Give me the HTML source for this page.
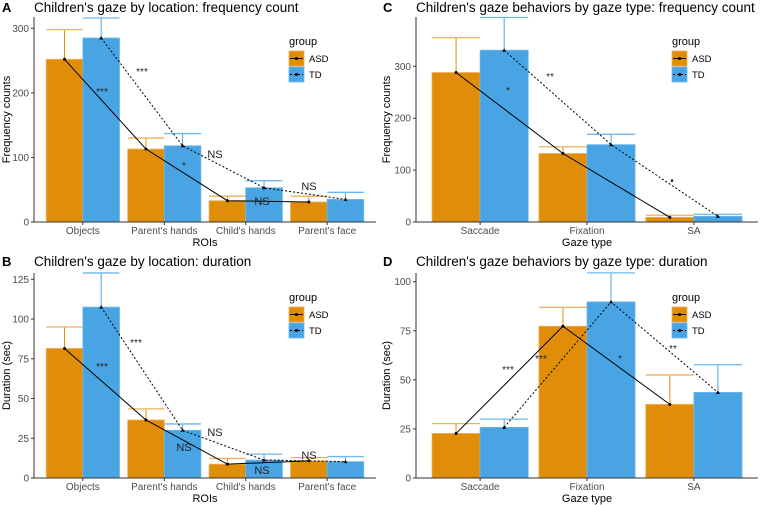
<!DOCTYPE html>
<html><head><meta charset="utf-8"><style>
html,body{margin:0;padding:0;background:#fff;}
svg{display:block;font-family:"Liberation Sans",Arial,sans-serif;}
</style></head><body>
<svg id="fig" width="760" height="505" viewBox="0 0 760 505"></svg>
<script>
// Panel A data
const catsA = ["Objects","Parent's hands","Child's hands","Parent's face"];
const asdA = [252,113,33,31];
const tdA = [285,118,53,35];
const asdErrA = [298,130,40,40];
const tdErrA = [316,137,64,46];
const ticksA = [0,100,200,300];
// Panel B data
const asdB = [81.5,36.5,8.7,10.8];
const tdB = [107.5,30,11.3,10.3];
const asdErrB = [95,43.5,12.3,12.8];
const tdErrB = [129,34,15,13.5];
const ticksB = [0,25,50,75,100,125];
// Panel C data
const catsC = ["Saccade","Fixation","SA"];
const asdC = [288,132,9];
const tdC = [331,149,11];
const asdErrC = [355,145,13];
const tdErrC = [394,169,15];
const ticksC = [0,100,200,300];
// Panel D data
const asdD = [22.7,77.3,37.5];
const tdD = [25.8,89.7,43.6];
const asdErrD = [27.7,87,52.5];
const tdErrD = [30,104.5,57.7];
const ticksD = [0,25,50,75,100];

const NS="http://www.w3.org/2000/svg";
const svg=document.getElementById('fig');
const ASD="#E08D0A", TD="#48A4E2", ASDL="#EDB15A", TDL="#6DB8EC";
function mk(tag,attrs,parent,text){const e=document.createElementNS(NS,tag);for(const k in attrs)e.setAttribute(k,attrs[k]);if(text!==undefined)e.textContent=text;(parent||svg).appendChild(e);return e;}

function panel(o){
  const g=mk('g',{});
  
  
  const n=o.cats.length, step=(o.right-o.left)/(n+0.2);
  const xc=i=>o.left+step*(0.6+i);
  const bw=step*0.45;
  const y=v=>o.bottom-(v-0)*(o.bottom-o.y1)/o.v1;
  // letter & title
  const l=mk('text',{x:o.lx,y:o.ty,'font-size':13,'font-weight':'bold',fill:'#000'},g,o.letter);
  
  const t=mk('text',{x:o.left,y:o.ty,'font-size':13.5,fill:'#000'},g,o.title);
  
  // bars
  for(let i=0;i<n;i++){
    [[o.asd[i],o.asdE[i],-1,ASD,ASDL,'asd'],[o.td[i],o.tdE[i],0,TD,TDL,'td']].forEach(([v,e,off,c,cl,nm])=>{
      const x0=xc(i)+off*bw;
      const r=mk('rect',{x:x0,y:y(v),width:bw,height:o.bottom-y(v),fill:c,stroke:cl,'stroke-width':0.8},g);
      
      const ln=mk('line',{x1:x0+bw/2,x2:x0+bw/2,y1:y(v),y2:y(e),stroke:c,'stroke-width':1},g);
      
      const cp=mk('line',{x1:x0,x2:x0+bw,y1:y(e),y2:y(e),stroke:cl,'stroke-width':1.3},g);
      
    });
  }
  // lines
  const pa=o.asd.map((v,i)=>(xc(i)-bw/2)+','+y(v)).join(' ');
  const pt=o.td.map((v,i)=>(xc(i)+bw/2)+','+y(v)).join(' ');
  const la=mk('polyline',{points:pa,fill:'none',stroke:'#000','stroke-width':1},g);
  
  const lt=mk('polyline',{points:pt,fill:'none',stroke:'#000','stroke-width':1,'stroke-dasharray':'2,2'},g);
  
  o.asd.forEach((v,i)=>{const p=mk('circle',{cx:xc(i)-bw/2,cy:y(v),r:1.5,fill:'#000'},g);});
  o.td.forEach((v,i)=>{const cx=xc(i)+bw/2,cy=y(v);const p=mk('polygon',{points:`${cx},${cy-2} ${cx-2},${cy+1.5} ${cx+2},${cy+1.5}`,fill:'#000'},g);});
  // annotations
  o.ann.forEach(a=>{const e=mk('text',{x:a[0],y:a[1],'font-size':a[3]||10,fill:'#222','text-anchor':'middle'},g,a[2]);});
  // axes
  const ya=mk('line',{x1:o.left,x2:o.left,y1:o.top,y2:o.bottom,stroke:'#333','stroke-width':1},g);
  
  const xa=mk('line',{x1:o.left,x2:o.right,y1:o.bottom,y2:o.bottom,stroke:'#333','stroke-width':1},g);
  
  o.ticks.forEach(v=>{
    const tk=mk('line',{x1:o.left-3,x2:o.left,y1:y(v),y2:y(v),stroke:'#333'},g);
    
    const tl=mk('text',{x:o.left-5,y:y(v)+3.5,'font-size':10,fill:'#4d4d4d','text-anchor':'end'},g,String(v));
    
  });
  o.cats.forEach((c,i)=>{
    const tk=mk('line',{x1:xc(i),x2:xc(i),y1:o.bottom,y2:o.bottom+3,stroke:'#333'},g);
    
    const tl=mk('text',{x:xc(i),y:o.bottom+12,'font-size':10,fill:'#4d4d4d','text-anchor':'middle'},g,c);
    
  });
  const xt=mk('text',{x:(o.left+o.right)/2,y:o.bottom+24,'font-size':11,fill:'#000','text-anchor':'middle'},g,o.xtitle);
  
  const yy=(o.top+o.bottom)/2;
  const yt=mk('text',{x:o.ytx,y:yy,'font-size':11,fill:'#000','text-anchor':'middle',transform:`rotate(-90 ${o.ytx} ${yy})`},g,o.ytitle);
  
  // legend
  const lg=mk('g',{},g);
  
  const lt0=mk('text',{x:o.lgx,y:o.lgy,'font-size':11,fill:'#000'},lg,'group');
  
  [['ASD',ASD,ASDL,false],['TD',TD,TDL,true]].forEach((d,k)=>{
    const ky=o.lgy+6+k*16;
    const en=mk('g',{},lg);
    
    mk('rect',{x:o.lgx,y:ky,width:15,height:15,fill:d[1],stroke:d[2],'stroke-width':0.8},en);
    mk('line',{x1:o.lgx+1,x2:o.lgx+14,y1:ky+7.5,y2:ky+7.5,stroke:'#000','stroke-dasharray':d[3]?'2,2':'none'},en);
    mk('circle',{cx:o.lgx+7.5,cy:ky+7.5,r:1.5,fill:'#000'},en);
    mk('text',{x:o.lgx+20,y:ky+11,'font-size':9.5,fill:'#000'},en,d[0]);
  });
}

panel({name:'panel-a',letter:'A',lx:2,ty:12,title:"Children's gaze by location: frequency count",cats:catsA,asd:asdA,td:tdA,asdE:asdErrA,tdE:tdErrA,ticks:ticksA,
  left:34,right:376,top:17,bottom:222,y1:28.3,v1:300,xtitle:'ROIs',ytitle:'Frequency counts',ytx:10,lgx:289,lgy:45,
  ann:[[102,95,'***'],[142,75,'***'],[184,169,'*'],[215,158,'NS',11],[262,205,'NS',11],[309,190,'NS',11]]});
panel({name:'panel-b',letter:'B',lx:2,ty:266,title:"Children's gaze by location: duration",cats:catsA,asd:asdB,td:tdB,asdE:asdErrB,tdE:tdErrB,ticks:ticksB,
  left:34,right:376,top:273,bottom:478,y1:279.3,v1:125,xtitle:'ROIs',ytitle:'Duration (sec)',ytx:10,lgx:289,lgy:301,
  ann:[[102,370,'***'],[136,346,'***'],[215,436,'NS',11],[184,451,'NS',11],[262,474,'NS',11],[309,459,'NS',11]]});
panel({name:'panel-c',letter:'C',lx:383,ty:12,title:"Children's gaze behaviors by gaze type: frequency count",cats:catsC,asd:asdC,td:tdC,asdE:asdErrC,tdE:tdErrC,ticks:ticksC,
  left:416,right:758,top:17,bottom:222,y1:66.3,v1:300,xtitle:'Gaze type',ytitle:'Frequency counts',ytx:390,lgx:672,lgy:45,
  ann:[[508,94,'*'],[550,80,'**'],[672,184,'•']]});
panel({name:'panel-d',letter:'D',lx:383,ty:266,title:"Children's gaze behaviors by gaze type: duration",cats:catsC,asd:asdD,td:tdD,asdE:asdErrD,tdE:tdErrD,ticks:ticksD,
  left:416,right:758,top:273,bottom:478,y1:281.7,v1:100,xtitle:'Gaze type',ytitle:'Duration (sec)',ytx:390,lgx:672,lgy:301,
  ann:[[508,373,'***'],[541,362,'***'],[620,362,'*'],[673,352,'**']]});
</script>
</body></html>
